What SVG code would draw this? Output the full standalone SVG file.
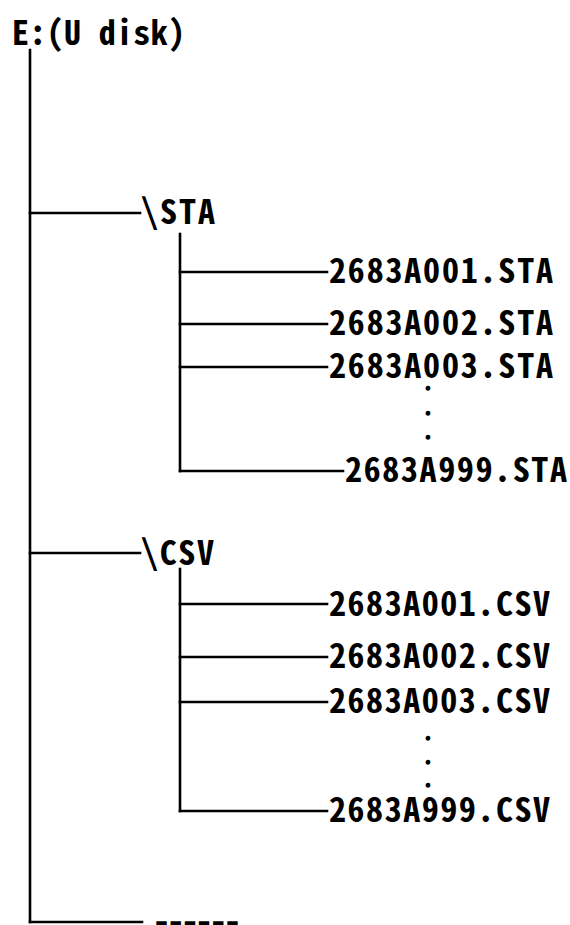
<svg xmlns="http://www.w3.org/2000/svg" width="570" height="925" viewBox="0 0 570 925">
<style>
.t{font-family:"Noto Sans CJK SC","Liberation Sans",sans-serif;font-size:34px;font-weight:bold;font-feature-settings:"hwid";fill:#000;}
.d{font-family:"Noto Sans CJK SC","Liberation Sans",sans-serif;font-size:18px;font-weight:bold;fill:#000;stroke:#000;stroke-width:1.4;text-anchor:middle;}
.c line{stroke:#000;stroke-width:2.6;stroke-linecap:square;}
</style>
<rect width="570" height="925" fill="#fff"/>
<g id="connectors" class="c">
<line x1="30" y1="50" x2="30" y2="922"/>
<line x1="30" y1="213" x2="140" y2="213"/>
<line x1="30" y1="553" x2="140" y2="553"/>
<line x1="30" y1="922" x2="142" y2="922"/>
<line x1="180" y1="234" x2="180" y2="471"/>
<line x1="180" y1="272" x2="327" y2="272"/>
<line x1="180" y1="324" x2="327" y2="324"/>
<line x1="180" y1="367" x2="327" y2="367"/>
<line x1="180" y1="471" x2="343" y2="471"/>
<line x1="180" y1="569" x2="180" y2="811"/>
<line x1="180" y1="604" x2="327" y2="604"/>
<line x1="180" y1="657" x2="327" y2="657"/>
<line x1="180" y1="702" x2="327" y2="702"/>
<line x1="180" y1="811" x2="327" y2="811"/>
</g>
<g id="root"><text class="t" x="12" y="45" textLength="173" lengthAdjust="spacing">E:(U disk)</text></g>
<g id="sta"><text class="t" x="141" y="224" textLength="74" lengthAdjust="spacing">\STA</text></g>
<g id="sta1"><text class="t" x="329" y="283" textLength="224" lengthAdjust="spacing">2683A001.STA</text></g>
<g id="sta2"><text class="t" x="329" y="335" textLength="224" lengthAdjust="spacing">2683A002.STA</text></g>
<g id="sta3"><text class="t" x="329" y="378" textLength="224" lengthAdjust="spacing">2683A003.STA</text></g>
<g id="sta-dots">
<text class="d" x="428" y="390">.</text>
<text class="d" x="428" y="415">.</text>
<text class="d" x="428" y="439">.</text>
</g>
<g id="sta999"><text class="t" x="345" y="482" textLength="222" lengthAdjust="spacing">2683A999.STA</text></g>
<g id="csv"><text class="t" x="141" y="565" textLength="73" lengthAdjust="spacing">\CSV</text></g>
<g id="csv1"><text class="t" x="329" y="616" textLength="221" lengthAdjust="spacing">2683A001.CSV</text></g>
<g id="csv2"><text class="t" x="329" y="668" textLength="221" lengthAdjust="spacing">2683A002.CSV</text></g>
<g id="csv3"><text class="t" x="329" y="713" textLength="221" lengthAdjust="spacing">2683A003.CSV</text></g>
<g id="csv-dots">
<text class="d" x="428" y="740">.</text>
<text class="d" x="428" y="764">.</text>
<text class="d" x="428" y="787">.</text>
</g>
<g id="csv999"><text class="t" x="329" y="822" textLength="221" lengthAdjust="spacing">2683A999.CSV</text></g>
<g id="more"><text class="t" x="153" y="933" textLength="88" lengthAdjust="spacing">------</text></g>
</svg>
